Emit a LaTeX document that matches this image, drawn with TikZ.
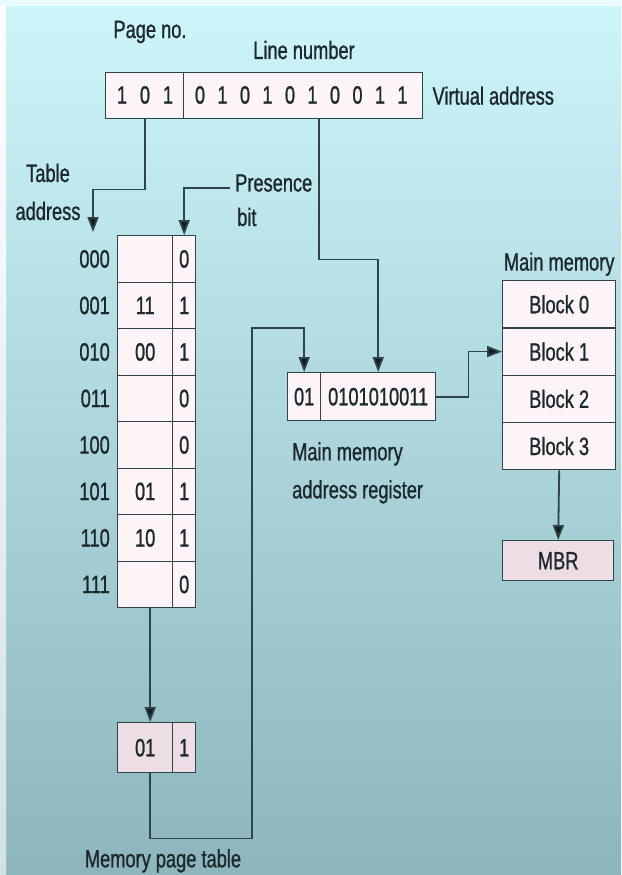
\documentclass[tikz,border=0pt]{standalone}
\usepackage{fontspec}
\setmainfont{Liberation Sans}[FakeStretch=0.73, FakeBold=0.9]
\usetikzlibrary{arrows.meta, positioning, calc}
\definecolor{vmBgTop}{RGB}{204,246,250}
\definecolor{vmBgMid}{RGB}{180,232,240}
\definecolor{vmBgBot}{RGB}{140,182,188}
\definecolor{vmLine}{RGB}{46,68,72}
\definecolor{vmTip}{RGB}{20,28,30}
\definecolor{vmText}{RGB}{28,40,44}
\definecolor{vmCell}{RGB}{252,244,246}
\definecolor{vmCellDark}{RGB}{236,222,228}

\begin{document}
\begin{tikzpicture}[
  x=1pt, y=-1pt,
  font=\fontsize{25}{38}\selectfont,
  txt/.style={inner sep=1pt, text=vmText},
  cell/.style={draw=vmLine, line width=1.4pt, fill=vmCell, inner sep=0pt,
               anchor=north west, text=vmText},
  arr/.style={-{Triangle[length=15pt,width=11pt,fill=vmTip]}, line width=1.8pt, draw=vmLine}
]

% background
\shade[top color=vmBgTop, middle color=vmBgMid, bottom color=vmBgBot] (0,0) rectangle (621,875);
\shade[top color=white, bottom color=white!60!vmBgBot] (0,0) rectangle (6,875);
\fill[white!60!vmBgTop] (0,0) rectangle (621,6);
\useasboundingbox (0,0) rectangle (621,875);

% virtual address
\node[cell, minimum width=78pt, minimum height=46pt] (va-pg) at (105,72) {};
\node[cell, minimum width=239pt, minimum height=46pt] (va-ln) at (183,72) {};
\foreach \d [count=\k from 0] in {1,0,1}
  \node[txt] (pd\k) at (122+23*\k,95) {\d};
\foreach \d [count=\k from 0] in {0,1,0,1,0,1,0,0,1,1}
  \node[txt] (ld\k) at (200+22.5*\k,95) {\d};
\node[txt] (pageno) at (150,32) {Page no.};
\node[txt] (linenum) at (304,50) {Line number};
\node[txt, right=8pt of va-ln] (vaddr) {Virtual address};

% memory table
\foreach \lab/\val/\bit [count=\i from 0] in {000//0,001/11/1,010/00/1,011//0,100//0,101/01/1,110/10/1,111//0} {
  \node[cell, minimum width=55pt, minimum height=46.5pt] (val\i) at (117,235+46.5*\i) {\val};
  \node[cell, minimum width=23pt, minimum height=46.5pt] (bit\i) at (172,235+46.5*\i) {\bit};
  \node[txt, left=6pt of val\i] (lab\i) {\lab};
}
\node[txt, align=center] (tbladdr) at (48,192) {Table\\address};
\node[txt, anchor=west] (pres) at (234,183) {Presence};
\node[txt, anchor=west] (presbit) at (236,217) {bit};
\coordinate (ta-tip) at (93,232);

% selected entry
\node[cell, fill=vmCellDark, minimum width=55pt, minimum height=50pt] (ptv) at (117,722) {01};
\node[cell, fill=vmCellDark, minimum width=23pt, minimum height=50pt] (ptb) at (172,722) {1};
\node[txt, anchor=north] (ptlbl) at (163,848) {Memory page table};

% main memory address register
\node[cell, minimum width=33pt, minimum height=48pt] (mar-pg) at (287,372) {01};
\node[cell, minimum width=115pt, minimum height=48pt] (mar-ln) at (320,372) {0101010011};
\node[txt, align=left, anchor=north west] (marlbl) at (291,441) {Main memory\\address register};

% main memory
\foreach \b in {0,...,3}
  \node[cell, minimum width=113pt, minimum height=47.25pt] (blk\b) at (502,280+47.25*\b) {Block \b};
\node[txt, above=3pt of blk0] (mmlbl) {Main memory};
\node[cell, fill=vmCellDark, minimum width=111pt, minimum height=40pt] (mbr) at (502,540) {MBR};

% connectors
\draw[arr] (va-pg.south) -- ++(0,70) -| (ta-tip);
\draw[arr] ([xshift=-4pt,yshift=-5pt]pres.west) -| (bit0.north);
\draw[arr] ([xshift=15.5pt]va-ln.south) -- ++(0,140) -| (mar-ln.north);
\draw[arr] ([xshift=5pt]val7.south) -- ([xshift=5pt]ptv.north);
\draw[arr] ([xshift=5pt]ptv.south) -- ++(0,65) -- ++(102,0) |- ($(mar-pg.north)+(0,-44)$) -- (mar-pg.north);
\draw[arr] (mar-ln.east) -- ++(32,0) |- (blk1.west);
\draw[arr] (blk3.south) -- (mbr.north);

\end{tikzpicture}
\end{document}
